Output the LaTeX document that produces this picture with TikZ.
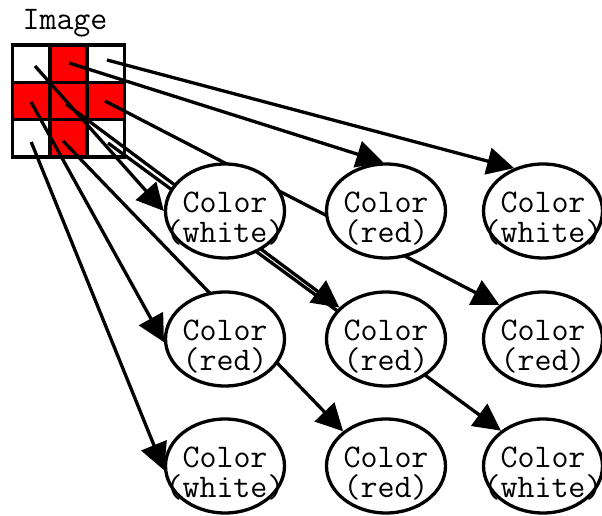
\documentclass[tikz,border=0pt]{standalone}
\usetikzlibrary{arrows.meta,calc,shapes.geometric}
\pgfdeclarelayer{front}
\pgfsetlayers{main,front}
\begin{document}
\begin{tikzpicture}[x=1pt,y=-1pt,
  lbl/.style={font=\ttfamily\fontsize{33}{30}\selectfont, inner sep=0pt},
  cell/.style={draw=black, line width=3.4pt, minimum size=37.3pt, inner sep=0pt},
  colorell/.style={ellipse, draw=black, fill=white, line width=3.3pt,
                   minimum width=119pt, minimum height=94pt, inner sep=0pt},
  link/.style={line width=3.3pt, -{Triangle[length=27pt,width=27pt]}}
]
\useasboundingbox (0,0) rectangle (602,516);

% the 3x3 pixel image
\node[lbl, anchor=base] (title) at (65,30) {Image};
\foreach \r/\y in {0/63.7,1/101,2/138.3}
  \foreach \c/\x in {0/31.2,1/68.5,2/105.8}
    \node[cell, fill=white] (c\r\c) at (\x,\y) {};
\foreach \n in {01,10,11,12,21}
  \node[cell, fill=red] (c\n) at (c\n.center) {};

% one colour node per pixel
\begin{pgfonlayer}{front}
\foreach \n/\x/\y/\col in {00/225/211/white, 01/386/211/red, 02/543/211/white,
                           10/225/339/red,   11/386/339/red, 12/543/339/red,
                           20/225/466/white, 21/386/466/red, 22/543/466/white}{
  \node[colorell] (e\n) at (\x,\y) {};
  \node[lbl, anchor=base] (e\n a) at (\x,\y+1) {Color};
  \node[lbl, anchor=base] (e\n b) at (\x,\y+31) {(\col)};
}
\end{pgfonlayer}

% edge tails inside the pixels
\coordinate (t00) at ($(c00.center)+(3.8,2.3)$);
\coordinate (t01) at ($(c01.center)+(0.5,-0.7)$);
\coordinate (t02) at ($(c02.center)+(1.2,-3.7)$);
\coordinate (t10) at ($(c10.center)+(-0.2,1)$);
\coordinate (t11) at ($(c11.center)+(-2.5,3)$);
\coordinate (t12) at ($(c12.center)+(-0.8,0)$);
\coordinate (t20) at ($(c20.center)+(0,3.7)$);
\coordinate (t21) at ($(c21.center)+(-5.5,2.7)$);
\coordinate (t22) at ($(c22.center)+(2.2,4.7)$);

% pixel -> colour edges
\draw[link] (t00) -- (e00.180);
\draw[link] (t01) -- (e01.93.5);
\draw[link] (t02) -- (e02.124);
\draw[link] (t10) -- (e10.183);
\draw[link] (t11) -- (e11.146.6);
\draw[link] (t12) -- (e12.142.9);
\draw[link] (t20) -- (e20.184);
\draw[link] (t21) -- (e21.141.7);
\draw[link] (t22) -- (e22.140.3);
\end{tikzpicture}
\end{document}
